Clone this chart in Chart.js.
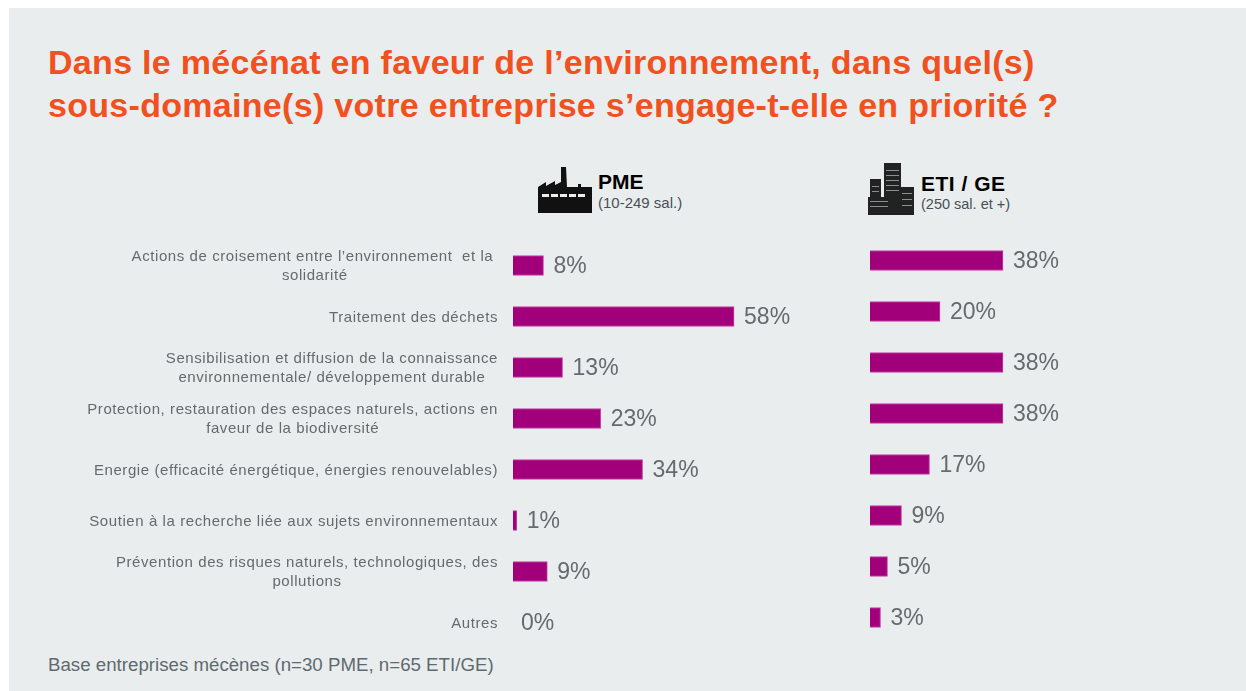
<!DOCTYPE html>
<html lang="fr"><head><meta charset="utf-8">
<script src="https://cdn.jsdelivr.net/npm/chart.js@4"></script>
<style>
html,body{margin:0;padding:0;background:#fff;width:1246px;height:691px;overflow:hidden}
#panel{position:absolute;left:9px;top:8px;width:1237px;height:683px;background:#E9EDEE}
.t{position:absolute;font-family:"Liberation Sans",Arial,sans-serif;white-space:nowrap}
#title{left:48px;top:41px;font-size:34px;line-height:43px;font-weight:bold;color:#F1501F;letter-spacing:.3px}
#base{left:48px;top:654px;font-size:18.7px;line-height:22px;color:#5F6A6E}
.h{font-weight:bold;color:#000}
.s{color:#4a4f55}
canvas{position:absolute}
svg{position:absolute}
</style></head><body>
<div id="panel"></div>
<div class="t" id="title">Dans le mécénat en faveur de l’environnement, dans quel(s)<br>sous-domaine(s) votre entreprise s’engage-t-elle en priorité ?</div>
<svg style="left:537px;top:166px" width="56" height="48" viewBox="0 0 56 48"><path fill="#111" d="M1 47V21l8-5v4l9-5v4l6-3V1h5l1 20h11v-3l3 0 0 3h11v26z"/><g fill="#E9EDEE"><rect x="5" y="28" width="7" height="3"/><rect x="14" y="28" width="7" height="3"/><rect x="23" y="28" width="7" height="3"/><rect x="32" y="28" width="7" height="3"/><rect x="41" y="28" width="7" height="3"/></g></svg>
<div class="t h" style="left:598px;top:170px;font-size:21px">PME</div>
<div class="t s" style="left:598px;top:194px;font-size:15px">(10-249 sal.)</div>
<svg style="left:867px;top:162px" width="50" height="53" viewBox="0 0 50 53"><g fill="#222"><rect x="3" y="17" width="11" height="36"/><rect x="17" y="1" width="17" height="52"/><rect x="33" y="25" width="14" height="28"/><rect x="1" y="35" width="22" height="18"/></g><g fill="#8a8f90"><rect x="19" y="8" width="13" height="1"/><rect x="19" y="13" width="13" height="1"/><rect x="19" y="18" width="13" height="1"/><rect x="19" y="23" width="13" height="1"/><rect x="19" y="28" width="13" height="1"/><rect x="5" y="24" width="7" height="1"/><rect x="5" y="29" width="7" height="1"/><rect x="3" y="39" width="18" height="1"/><rect x="3" y="44" width="18" height="1"/><rect x="35" y="31" width="10" height="1"/><rect x="35" y="37" width="10" height="1"/><rect x="35" y="43" width="10" height="1"/></g></svg>
<div class="t h" style="left:921px;top:172px;font-size:21px;letter-spacing:.5px">ETI / GE</div>
<div class="t s" style="left:921px;top:196px;font-size:14.5px">(250 sal. et +)</div>
<canvas id="c1" style="left:0;top:240px"></canvas>
<canvas id="c2" style="left:860px;top:235px"></canvas>
<div class="t" id="base">Base entreprises mécènes (n=30 PME, n=65 ETI/GE)</div>
<script>
const categories = [
  ["Actions de croisement entre l’environnement  et la ","solidarité"],
  ["Traitement des déchets"],
  ["Sensibilisation et diffusion de la connaissance","environnementale/ développement durable"],
  ["Protection, restauration des espaces naturels, actions en","faveur de la biodiversité"],
  ["Energie (efficacité énergétique, énergies renouvelables)"],
  ["Soutien à la recherche liée aux sujets environnementaux"],
  ["Prévention des risques naturels, technologiques, des","pollutions"],
  ["Autres"]
];
const pmeValues = [8,58,13,23,34,1,9,0];
const etiValues = [38,20,38,38,17,9,5,3];
const BAR = "#A1007A", EDGE = "#C73FA5", TXT = "#666A6C";

const valueLabels = {
  id:"valueLabels",
  afterDatasetsDraw(chart){
    const c = chart.ctx, ds = chart.data.datasets[0];
    c.save(); c.font = '23px "Liberation Sans"';
    c.fillStyle = TXT; c.textAlign = "left"; c.textBaseline = "middle";
    chart.getDatasetMeta(0).data.forEach((b,i)=>{
      c.fillText(ds.data[i]+"%", b.x + (ds.data[i]===0 ? 8 : 10), b.y + 1);
    });
    c.restore();
  }
};
const catLabels = {
  id:"catLabels",
  afterDraw(chart){
    const c = chart.ctx, y = chart.scales.y;
    c.save(); c.font = '15px "Liberation Sans"'; c.letterSpacing = "0.58px";
    c.fillStyle = TXT; c.textAlign = "center"; c.textBaseline = "middle";
    categories.forEach((lines,i)=>{
      const w = Math.max(...lines.map(l=>c.measureText(l).width));
      const cx = y.right - 15 - w/2, cy = y.getPixelForValue(i);
      lines.forEach((l,k)=> c.fillText(l, cx, cy + 1 + (k-(lines.length-1)/2)*19));
    });
    c.restore();
  }
};
function make(id, w, h, values, max, leftAxis, padLeft){
  const cv = document.getElementById(id);
  cv.width = w; cv.height = h;
  cv.style.width = w+"px"; cv.style.height = h+"px";
  return new Chart(cv,{
    type:"bar",
    data:{labels:categories,datasets:[{data:values,
      backgroundColor:c=>c.raw===0?"transparent":BAR,
      borderColor:c=>c.raw===0?"transparent":EDGE,
      borderWidth:c=>c.raw===0?0:1,
      barThickness:20}]},
    options:{
      indexAxis:"y",responsive:false,animation:false,devicePixelRatio:1,
      layout:{padding:{left:padLeft,right:0,top:0,bottom:0}},
      plugins:{legend:{display:false},tooltip:{enabled:false},title:{display:false}},
      scales:{
        x:{display:false,min:0,max:max},
        y:{display:leftAxis,grid:{display:false},border:{display:false},
           ticks:{display:false},
           afterFit(s){ if(leftAxis) s.width = 513; }}
      }
    },
    plugins:leftAxis?[valueLabels,catLabels]:[valueLabels]
  });
}
make("c1",856,408,pmeValues,90,true,0);
make("c2",360,408,etiValues,100,false,10);
</script>
</body></html>
